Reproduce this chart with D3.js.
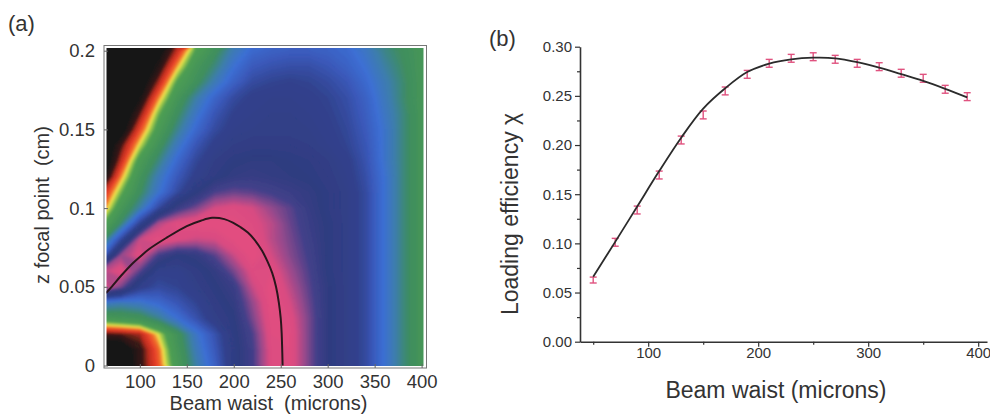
<!DOCTYPE html>
<html>
<head>
<meta charset="utf-8">
<script src="https://cdnjs.cloudflare.com/ajax/libs/d3/7.8.5/d3.min.js"></script>
<style>
body { margin: 0; background: #fff; }
svg { display: block; font-family: "Liberation Sans", Arial, sans-serif; }
</style>
</head>
<body>
<div id="chart"></div>
<script>
// (a) sampled map: columns = beam waist (microns), rows = z focal point (cm)
var heatX = [60, 80, 100, 120, 140, 160, 180, 200, 220, 240, 260, 280, 300, 320, 340, 360, 380, 400];
var heatZ = [0, 0.01, 0.02, 0.03, 0.04, 0.05, 0.06, 0.07, 0.08, 0.09, 0.10,
             0.11, 0.12, 0.13, 0.14, 0.15, 0.16, 0.17, 0.18, 0.19, 0.20];
var heatRows = [
    [0.04, 0.06, 0.16, 0.25, 0.38, 0.50, 0.60, 0.74, 0.82, 0.95, 0.96, 0.86, 0.77, 0.72, 0.66, 0.56, 0.47, 0.40],
    [0.05, 0.07, 0.16, 0.26, 0.40, 0.52, 0.62, 0.74, 0.82, 0.95, 0.96, 0.86, 0.77, 0.72, 0.66, 0.56, 0.47, 0.40],
    [0.17, 0.18, 0.20, 0.30, 0.42, 0.54, 0.64, 0.75, 0.83, 0.96, 0.96, 0.86, 0.77, 0.72, 0.66, 0.56, 0.47, 0.40],
    [0.38, 0.40, 0.42, 0.48, 0.56, 0.64, 0.72, 0.76, 0.86, 0.97, 0.95, 0.86, 0.77, 0.72, 0.66, 0.56, 0.47, 0.40],
    [0.54, 0.52, 0.54, 0.58, 0.63, 0.68, 0.74, 0.78, 0.88, 0.98, 0.93, 0.85, 0.77, 0.72, 0.66, 0.56, 0.47, 0.40],
    [0.95, 0.86, 0.70, 0.66, 0.68, 0.72, 0.76, 0.80, 0.92, 0.98, 0.91, 0.84, 0.77, 0.72, 0.66, 0.56, 0.47, 0.40],
    [0.90, 0.96, 0.84, 0.70, 0.70, 0.74, 0.78, 0.86, 0.95, 0.96, 0.89, 0.83, 0.76, 0.72, 0.66, 0.56, 0.47, 0.40],
    [0.58, 0.88, 0.95, 0.82, 0.76, 0.78, 0.84, 0.92, 0.98, 0.93, 0.87, 0.82, 0.76, 0.72, 0.66, 0.56, 0.47, 0.40],
    [0.42, 0.66, 0.92, 0.97, 0.94, 0.92, 0.93, 0.97, 0.97, 0.91, 0.86, 0.81, 0.76, 0.72, 0.66, 0.56, 0.47, 0.40],
    [0.33, 0.46, 0.68, 0.90, 0.96, 0.98, 0.98, 0.97, 0.95, 0.91, 0.85, 0.80, 0.76, 0.72, 0.66, 0.56, 0.47, 0.40],
    [0.25, 0.39, 0.50, 0.66, 0.80, 0.86, 0.93, 0.95, 0.93, 0.88, 0.84, 0.79, 0.75, 0.72, 0.66, 0.56, 0.47, 0.40],
    [0.20, 0.33, 0.44, 0.55, 0.66, 0.76, 0.83, 0.85, 0.84, 0.82, 0.80, 0.78, 0.75, 0.72, 0.66, 0.56, 0.47, 0.40],
    [0.10, 0.27, 0.41, 0.52, 0.62, 0.70, 0.75, 0.78, 0.79, 0.78, 0.77, 0.76, 0.74, 0.71, 0.65, 0.56, 0.47, 0.40],
    [0.06, 0.21, 0.37, 0.47, 0.58, 0.67, 0.73, 0.76, 0.77, 0.77, 0.76, 0.75, 0.73, 0.70, 0.64, 0.55, 0.47, 0.40],
    [0.05, 0.17, 0.30, 0.42, 0.53, 0.63, 0.70, 0.73, 0.74, 0.74, 0.74, 0.73, 0.71, 0.68, 0.63, 0.55, 0.47, 0.40],
    [0.05, 0.09, 0.24, 0.37, 0.48, 0.58, 0.66, 0.71, 0.72, 0.72, 0.72, 0.72, 0.70, 0.67, 0.62, 0.55, 0.47, 0.40],
    [0.04, 0.06, 0.18, 0.33, 0.44, 0.54, 0.63, 0.69, 0.71, 0.72, 0.72, 0.71, 0.69, 0.66, 0.61, 0.54, 0.47, 0.40],
    [0.04, 0.05, 0.12, 0.27, 0.40, 0.50, 0.59, 0.66, 0.70, 0.71, 0.71, 0.70, 0.68, 0.65, 0.60, 0.53, 0.46, 0.40],
    [0.04, 0.05, 0.08, 0.20, 0.35, 0.43, 0.52, 0.60, 0.66, 0.68, 0.69, 0.68, 0.66, 0.63, 0.58, 0.52, 0.46, 0.40],
    [0.04, 0.04, 0.06, 0.14, 0.28, 0.40, 0.47, 0.56, 0.62, 0.64, 0.65, 0.65, 0.63, 0.60, 0.56, 0.50, 0.45, 0.40],
    [0.04, 0.04, 0.05, 0.10, 0.21, 0.35, 0.43, 0.52, 0.58, 0.60, 0.61, 0.61, 0.60, 0.58, 0.54, 0.48, 0.44, 0.40]
];

// (a) black contour line
var contourX = [64, 70, 80, 92.5, 100, 110, 128, 150, 165, 177, 190, 200, 207, 215, 222, 230, 236, 241, 245, 248, 250, 251, 252];
var contourZ = [0.046, 0.050, 0.057, 0.065, 0.069, 0.074, 0.081, 0.0886, 0.0920, 0.0938, 0.0930, 0.0905,
                0.088, 0.0845, 0.080, 0.073, 0.066, 0.0587, 0.050, 0.040, 0.030, 0.0206, 0.0];

// (b) measured loading efficiency with error bars, and fitted curve
var waist = [50, 70, 90, 110, 130, 150, 170, 190, 210, 230, 250, 270, 290, 310, 330, 350, 370, 390];
var loadEff = [0.0627, 0.1011, 0.1339, 0.1695, 0.2051, 0.2306, 0.2550, 0.2719, 0.2831, 0.2882,
               0.2898, 0.2872, 0.2831, 0.2797, 0.2730, 0.2679, 0.2567, 0.2492];
var loadErr = [0.003, 0.004, 0.004, 0.004, 0.004, 0.004, 0.004, 0.004, 0.004, 0.004,
               0.004, 0.004, 0.004, 0.004, 0.004, 0.004, 0.004, 0.004];
var fitEff = [0.066, 0.1015, 0.1375, 0.1735, 0.2075, 0.237, 0.2577, 0.2742, 0.2828, 0.2871,
              0.2888, 0.2882, 0.2843, 0.2787, 0.2720, 0.2652, 0.2572, 0.2485];

var ticksAX = [100, 150, 200, 250, 300, 350, 400];
var ticksAY = [0, 0.05, 0.1, 0.15, 0.2];
var ticksBX = [100, 200, 300, 400];
var ticksBXMinor = [50, 150, 250, 350];
var ticksBY = [0, 0.05, 0.10, 0.15, 0.20, 0.25, 0.30];
var ticksBYMinor = [0.025, 0.075, 0.125, 0.175, 0.225, 0.275];

var svg = d3.select('#chart').append('svg')
    .attr('width', 990)
    .attr('height', 415);

svg.append('rect').attr('width', 990).attr('height', 415).attr('fill', '#fff');

var defs = svg.append('defs');

// ---------- panel (a) ----------
var xA = d3.scaleLinear().domain([64, 402]).range([106, 423.5]);
var yA = d3.scaleLinear().domain([0, 0.2]).range([365.5, 50.7]);

var colorA = d3.scaleLinear()
    .domain([0, 0.12, 0.17, 0.20, 0.235, 0.265, 0.29, 0.31, 0.34, 0.44, 0.50, 0.56, 0.62, 0.68, 0.76, 0.82, 0.88, 0.93, 1])
    .range(['#161616', '#1a1817', '#3a1a15', '#b82c1f', '#e8402a', '#f0742e', '#f2e04c', '#a4cc4c', '#4f9f52',
            '#3f8e5e', '#3d7eaa', '#3c6fd4', '#3a58b8', '#31428e', '#2f3c80', '#43408a', '#9a4a8c', '#d84c82', '#ea4f7e'])
    .interpolate(d3.interpolateRgb)
    .clamp(true);

defs.append('clipPath').attr('id', 'clipA')
    .append('rect')
    .attr('x', xA.range()[0] + 0.5)
    .attr('y', yA(0.2017))
    .attr('width', xA.range()[1] - xA.range()[0] - 0.5)
    .attr('height', yA(-0.0003) - yA(0.2017));

defs.append('filter').attr('id', 'soft')
    .append('feGaussianBlur').attr('stdDeviation', 1.2);

var values = [];
heatRows.forEach(function (row) {
    row.forEach(function (v) { values.push(v); });
});

var levels = d3.range(0, 1.0001, 0.01);
var bands = d3.contours()
    .size([heatX.length, heatZ.length])
    .thresholds(levels)(values);

var stepX = heatX[1] - heatX[0];
var stepZ = heatZ[1] - heatZ[0];
var gridProj = d3.geoTransform({
    point: function (gx, gy) {
        this.stream.point(xA(heatX[0] + (gx - 0.5) * stepX), yA(heatZ[0] + (gy - 0.5) * stepZ));
    }
});
var gridPath = d3.geoPath(gridProj);

var plotA = svg.append('g').attr('clip-path', 'url(#clipA)');

plotA.append('g')
    .attr('filter', 'url(#soft)')
    .selectAll('path')
    .data(bands)
    .enter().append('path')
    .attr('d', gridPath)
    .attr('fill', function (d) { return colorA(d.value); })
    .attr('stroke', function (d) { return colorA(d.value); })
    .attr('stroke-width', 0.6);

var contourLine = d3.line()
    .x(function (d, i) { return xA(contourX[i]); })
    .y(function (d, i) { return yA(contourZ[i]); })
    .curve(d3.curveCatmullRom);

plotA.append('path')
    .datum(contourX)
    .attr('d', contourLine)
    .attr('fill', 'none')
    .attr('stroke', '#2a161c')
    .attr('stroke-width', 2);

// frame
svg.append('rect')
    .attr('x', 104)
    .attr('y', 45.5)
    .attr('width', 322.5)
    .attr('height', 322.5)
    .attr('fill', 'none')
    .attr('stroke', '#777')
    .attr('stroke-width', 1);

var axisAX = svg.append('g')
    .attr('transform', 'translate(0,368)')
    .call(d3.axisBottom(xA).tickValues(ticksAX).tickSizeInner(-4).tickSizeOuter(0).tickPadding(7)
        .tickFormat(function (d) { return String(d); }));

var axisAY = svg.append('g')
    .attr('transform', 'translate(104,0)')
    .call(d3.axisLeft(yA).tickValues(ticksAY).tickSizeInner(-4).tickSizeOuter(0).tickPadding(9)
        .tickFormat(function (d) { return String(d); }));

[axisAX, axisAY].forEach(function (ax) {
    ax.select('.domain').remove();
    ax.selectAll('line').attr('stroke', '#666');
    ax.selectAll('text')
        .attr('fill', '#333')
        .style('font-size', '18.5px')
        .style('font-family', '"Liberation Sans", Arial, sans-serif');
});

svg.append('text')
    .attr('x', 268.5)
    .attr('y', 410)
    .attr('text-anchor', 'middle')
    .style('white-space', 'pre')
    .style('font-size', '20px')
    .attr('fill', '#333')
    .text('Beam waist  (microns)');

svg.append('text')
    .attr('transform', 'translate(49,205) rotate(-90)')
    .attr('text-anchor', 'middle')
    .style('white-space', 'pre')
    .style('font-size', '20px')
    .attr('fill', '#333')
    .text('z focal point  (cm)');

svg.append('text')
    .attr('x', 8)
    .attr('y', 31)
    .style('font-size', '22px')
    .attr('fill', '#333')
    .text('(a)');

// ---------- panel (b) ----------
var xB = d3.scaleLinear().domain([38, 408]).range([580, 987]);
var yB = d3.scaleLinear().domain([0, 0.30]).range([341.7, 46.7]);

var axisBX = svg.append('g')
    .attr('transform', 'translate(0,' + yB(0) + ')')
    .call(d3.axisBottom(xB).tickValues(ticksBX).tickSize(5).tickSizeOuter(0).tickPadding(1)
        .tickFormat(d3.format('d')));

var axisBXMinor = svg.append('g')
    .attr('transform', 'translate(0,' + yB(0) + ')')
    .call(d3.axisBottom(xB).tickValues(ticksBXMinor).tickSize(3).tickFormat(''));

var axisBY = svg.append('g')
    .attr('transform', 'translate(' + xB(38) + ',0)')
    .call(d3.axisLeft(yB).tickValues(ticksBY).tickSize(5).tickSizeOuter(0).tickPadding(3)
        .tickFormat(d3.format('.2f')));

var axisBYMinor = svg.append('g')
    .attr('transform', 'translate(' + xB(38) + ',0)')
    .call(d3.axisLeft(yB).tickValues(ticksBYMinor).tickSize(3).tickFormat(''));

axisBXMinor.select('.domain').remove();
axisBYMinor.select('.domain').remove();

[axisBX, axisBXMinor, axisBY, axisBYMinor].forEach(function (ax) {
    ax.select('.domain').attr('stroke', '#333').attr('stroke-width', 1.6);
    ax.selectAll('line').attr('stroke', '#333').attr('stroke-width', 1.2);
    ax.selectAll('text')
        .attr('fill', '#333')
        .style('font-size', '15px')
        .style('font-family', '"Liberation Sans", Arial, sans-serif');
});

// error bars
var bars = svg.append('g').attr('class', 'errbars')
    .attr('stroke', '#e0527f')
    .attr('stroke-width', 1.4)
    .attr('fill', 'none');

waist.forEach(function (w, i) {
    var x = xB(w);
    var y0 = yB(loadEff[i] - loadErr[i]);
    var y1 = yB(loadEff[i] + loadErr[i]);
    bars.append('line').attr('x1', x).attr('x2', x).attr('y1', y0).attr('y2', y1);
    bars.append('line').attr('x1', x - 3.5).attr('x2', x + 3.5).attr('y1', y0).attr('y2', y0);
    bars.append('line').attr('x1', x - 3.5).attr('x2', x + 3.5).attr('y1', y1).attr('y2', y1);
});

var fitLine = d3.line()
    .x(function (d, i) { return xB(waist[i]); })
    .y(function (d) { return yB(d); })
    .curve(d3.curveCatmullRom);

svg.append('path')
    .datum(fitEff)
    .attr('d', fitLine)
    .attr('fill', 'none')
    .attr('stroke', '#2b2b2b')
    .attr('stroke-width', 1.8);

svg.append('text')
    .attr('x', 776)
    .attr('y', 398)
    .attr('text-anchor', 'middle')
    .style('font-size', '23px')
    .attr('fill', '#333')
    .text('Beam waist (microns)');

svg.append('text')
    .attr('transform', 'translate(518,214) rotate(-90)')
    .attr('text-anchor', 'middle')
    .style('font-size', '23px')
    .attr('fill', '#333')
    .text('Loading efficiency χ');

svg.append('text')
    .attr('x', 489)
    .attr('y', 46)
    .style('font-size', '22px')
    .attr('fill', '#333')
    .text('(b)');
</script>
</body>
</html>
